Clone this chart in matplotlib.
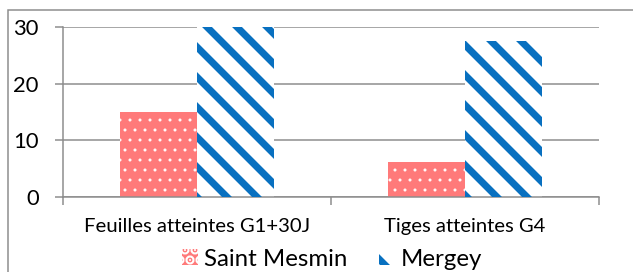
import numpy as np
import matplotlib.pyplot as plt
from matplotlib.patches import Rectangle

# données
categories = ['Feuilles atteintes G1+30J', 'Tiges atteintes G4']
saint_mesmin = [15.0, 6.2]
mergey = [30.0, 27.5]
series = ['Saint Mesmin', 'Mergey']

DPI = 180
W, H = 633, 272
plt.rcParams['font.family'] = ['Lato', 'DejaVu Sans']

fig = plt.figure(figsize=(W / DPI, H / DPI), dpi=DPI)
ax = fig.add_axes([63 / W, 1 - 197 / H, (599 - 63) / W, 170 / H])

# cadre extérieur
fig.patches.append(Rectangle((8 / W, -0.1), 1.2, 1.1 - 10 / H, transform=fig.transFigure,
                             fill=False, edgecolor='#8c8c8c', linewidth=0.6))

x = np.arange(len(categories))
bw = 0.287
red = '#ff7a7a'
blue = '#0870c0'

plt.rcParams['hatch.linewidth'] = 0.4
ax.bar(x - bw / 2, saint_mesmin, bw, color=red, linewidth=0, zorder=2)
ax.bar(x - bw / 2, saint_mesmin, bw, fill=False, hatch='...', edgecolor='white', linewidth=0, zorder=3)
h_red = Rectangle((0, 0), 1, 1, facecolor=red, hatch='...', edgecolor='white', linewidth=0)

plt.rcParams['hatch.linewidth'] = 2.8
ax.bar(x + bw / 2, mergey, bw, color='white', linewidth=0, zorder=2)
ax.bar(x + bw / 2, mergey, bw, fill=False, hatch='\\\\', edgecolor=blue, linewidth=0, zorder=3)
h_blue = Rectangle((0, 0), 1, 1, facecolor='white', hatch='\\\\', edgecolor=blue, linewidth=0)

ax.set_xlim(-0.5, len(categories) - 0.5)
ax.set_ylim(0, 30)
ax.set_yticks([0, 10, 20, 30])
ax.yaxis.grid(True, color='#8c8c8c', linewidth=0.6)
ax.set_axisbelow(True)

ax.set_xticks(x)
ax.set_xticklabels(categories)
ax.set_xticks(np.arange(-0.5, len(categories)), minor=True)
ax.tick_params(axis='x', which='major', length=0, pad=8.5, labelsize=8.1)
ax.tick_params(axis='x', which='minor', length=3, width=0.6, color='#8c8c8c', direction='out')
ax.tick_params(axis='y', length=3.2, width=0.6, color='#8c8c8c', pad=6.5, labelsize=8.8)

for s in ['top', 'right']:
    ax.spines[s].set_visible(False)
for s in ['left', 'bottom']:
    ax.spines[s].set_color('#8c8c8c')
    ax.spines[s].set_linewidth(0.6)

fig.legend([h_red, h_blue], series, loc='center', bbox_to_anchor=(332 / W, 1 - 259 / H), ncol=2,
           frameon=False, fontsize=9.6, handlelength=0.66, handleheight=0.66,
           handletextpad=0.25, columnspacing=1.3, borderpad=0, borderaxespad=0)

fig.savefig('out.png', dpi=DPI)
